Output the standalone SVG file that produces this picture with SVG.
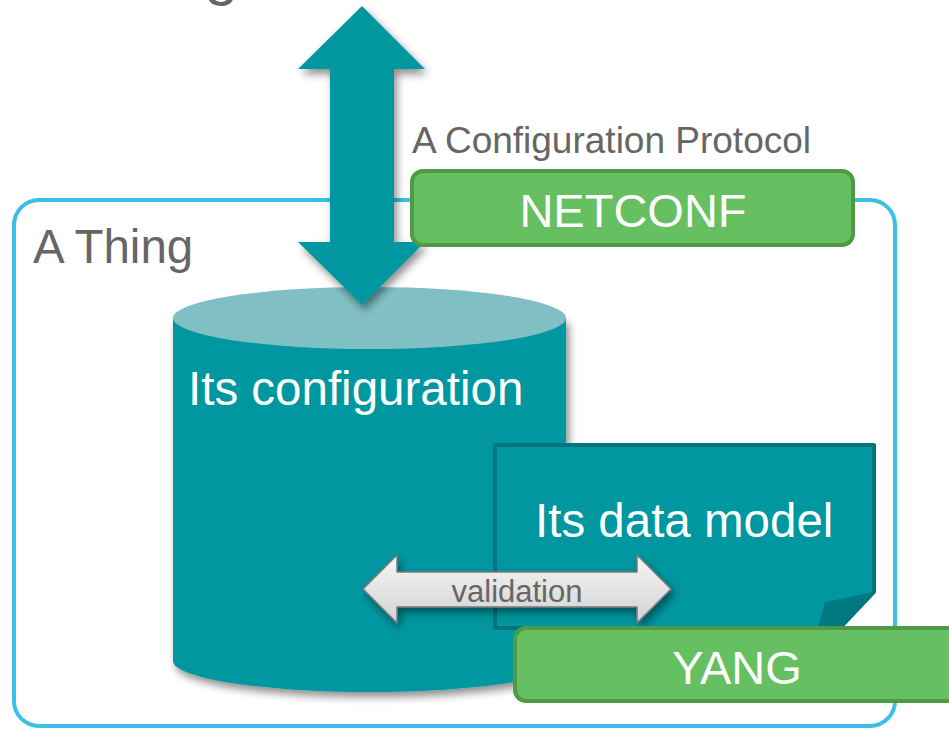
<svg xmlns="http://www.w3.org/2000/svg" width="949" height="730" viewBox="0 0 949 730">
<defs>
<style>
.t{font-family:"Liberation Sans",Arial,sans-serif}
.gray{fill:#666666}
.white{fill:#ffffff}
.teal{fill:#0097a0}
.green{fill:#66bf60;stroke:#4e9a45;stroke-width:4}
</style>
<filter id="sh" x="-20%" y="-20%" width="150%" height="150%">
<feGaussianBlur in="SourceAlpha" stdDeviation="4"/>
<feOffset dx="3" dy="5" result="b"/>
<feComponentTransfer><feFuncA type="linear" slope="0.45"/></feComponentTransfer>
<feMerge><feMergeNode/><feMergeNode in="SourceGraphic"/></feMerge>
</filter>
<linearGradient id="vg" x1="0" y1="0" x2="0" y2="1">
<stop offset="0" stop-color="#f6f6f6"/>
<stop offset="1" stop-color="#d2d2d2"/>
</linearGradient>
</defs>
<rect width="949" height="730" fill="#ffffff"/>
<text class="t gray" x="204" y="-7" font-size="62">g</text>
<g id="thing">
<rect x="14" y="200" width="881" height="526" rx="25" fill="none" stroke="#3bbfe7" stroke-width="4"/>
<text class="t gray" x="33" y="263" font-size="47.5">A Thing</text>
</g>
<g id="configuration">
<g filter="url(#sh)">
<path class="teal" d="M173,318 V661 A196.5,31 0 0 0 566,661 V318 Z"/>
</g>
<ellipse cx="369.5" cy="318" rx="196.5" ry="31" fill="#80c0c4"/>
<text class="t white" x="188" y="405" font-size="47.5">Its configuration</text>
</g>
<g id="datamodel">
<path d="M495,445 H874 V592 L840,628 H495 Z" fill="#0097a0" stroke="#00767c" stroke-width="4" stroke-linejoin="round"/>
<path d="M874,592 L825,602 L818,628 L840,628 Z" fill="#007a80"/>
<text class="t white" x="535" y="537" font-size="47.5">Its data model</text>
</g>
<g id="connectors">
<path filter="url(#sh)" class="teal" d="M362,6 L425,69 L394,69 L394,242 L425,242 L362,305 L298,242 L330,242 L330,69 L298,69 Z"/>
<path filter="url(#sh)" d="M363,589 L397,555 L397,572 L637,572 L637,555 L671,589 L637,623 L637,607 L397,607 L397,623 Z" fill="url(#vg)" stroke="#7a7a7a" stroke-width="1.5" stroke-linejoin="round"/>
<text class="t gray" x="517" y="602" font-size="31" text-anchor="middle">validation</text>
</g>
<g id="netconf">
<text class="t gray" x="412" y="153" font-size="37">A Configuration Protocol</text>
<rect class="green" x="412" y="171" width="441" height="74" rx="11"/>
<text class="t white" x="633" y="227" font-size="47" text-anchor="middle">NETCONF</text>
</g>
<g id="yang">
<rect class="green" x="515" y="628" width="500" height="73" rx="11"/>
<text class="t white" x="737" y="684" font-size="47" text-anchor="middle">YANG</text>
</g>
</svg>
